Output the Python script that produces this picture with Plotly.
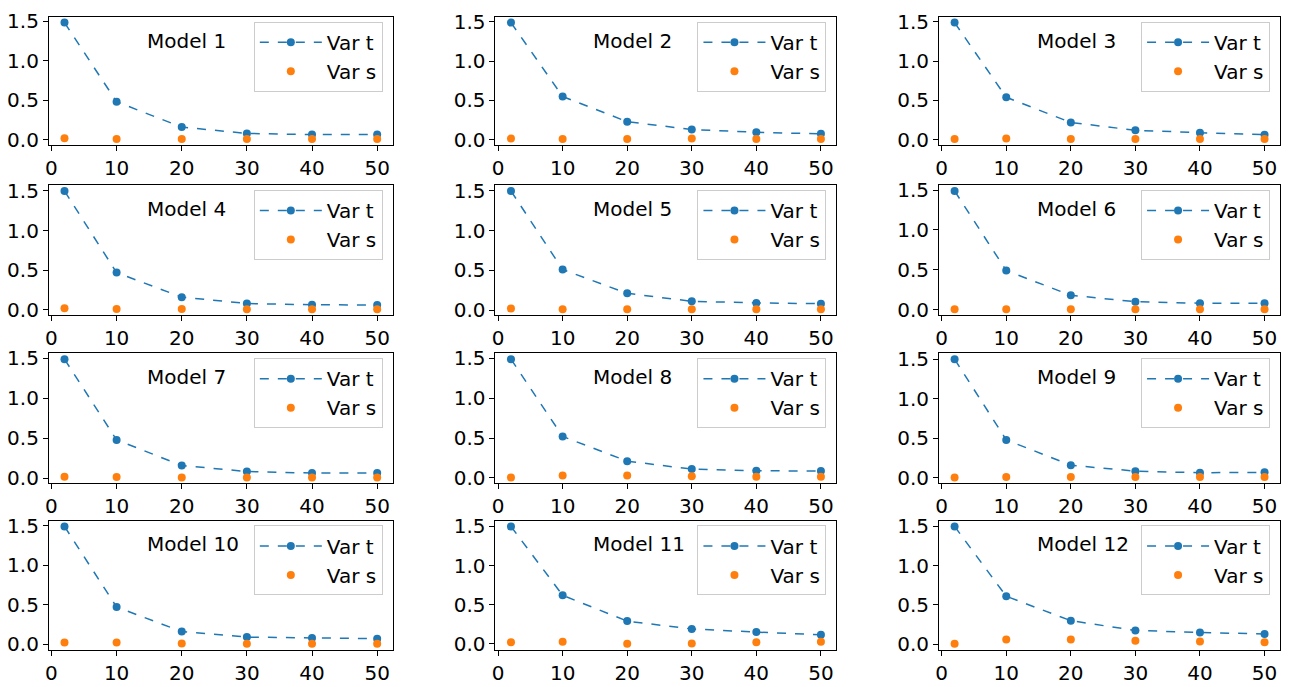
import plotly.graph_objects as go

x_vals = [2, 10, 20, 30, 40, 50]
model_names = [f"Model {i}" for i in range(1, 13)]

var_t = [
    [1.48, 0.48, 0.16, 0.08, 0.065, 0.065],
    [1.49, 0.55, 0.23, 0.13, 0.095, 0.075],
    [1.49, 0.54, 0.22, 0.12, 0.09, 0.065],
    [1.50, 0.47, 0.16, 0.08, 0.065, 0.06],
    [1.50, 0.51, 0.21, 0.11, 0.09, 0.08],
    [1.49, 0.49, 0.18, 0.10, 0.08, 0.08],
    [1.49, 0.48, 0.16, 0.085, 0.065, 0.065],
    [1.49, 0.52, 0.21, 0.11, 0.09, 0.085],
    [1.50, 0.48, 0.16, 0.085, 0.065, 0.07],
    [1.49, 0.47, 0.16, 0.09, 0.08, 0.07],
    [1.50, 0.62, 0.29, 0.19, 0.15, 0.115],
    [1.50, 0.61, 0.30, 0.175, 0.15, 0.13],
]
var_s = [
    [0.02, 0.01, 0.008, 0.008, 0.008, 0.008],
    [0.015, 0.008, 0.01, 0.015, 0.008, 0.01],
    [0.01, 0.015, 0.01, 0.01, 0.008, 0.008],
    [0.02, 0.01, 0.01, 0.008, 0.008, 0.008],
    [0.02, 0.01, 0.01, 0.01, 0.01, 0.01],
    [0.005, 0.005, 0.005, 0.005, 0.005, 0.005],
    [0.02, 0.015, 0.01, 0.01, 0.01, 0.01],
    [0.005, 0.03, 0.03, 0.02, 0.015, 0.015],
    [0.005, 0.01, 0.01, 0.01, 0.01, 0.01],
    [0.02, 0.02, 0.01, 0.005, 0.005, 0.005],
    [0.02, 0.025, 0.0, 0.005, 0.02, 0.025],
    [0.005, 0.06, 0.06, 0.045, 0.035, 0.025],
]
x_ticks = [0, 10, 20, 30, 40, 50]
y_ticks = [0.0, 0.5, 1.0, 1.5]
y_tick_text = ["0.0", "0.5", "1.0", "1.5"]

W, H = 1292, 687
col_px = [(45, 390), (493, 835), (938, 1280)]
row_px = [(9, 140), (181, 314), (353, 486), (524, 656)]

BLUE = "#1f77b4"
ORANGE = "#ff7f0e"
FONT = "DejaVu Sans"
FS = 20

fig = go.Figure()
layout = dict(
    width=W, height=H, margin=dict(l=0, r=0, t=0, b=0),
    paper_bgcolor="white", plot_bgcolor="white",
    font=dict(family=FONT, size=FS, color="black"),
    showlegend=True,
)
annotations = []

for i in range(12):
    r, c = divmod(i, 3)
    n = i + 1
    xa = "x" if n == 1 else f"x{n}"
    ya = "y" if n == 1 else f"y{n}"
    leg = "legend" if n == 1 else f"legend{n}"
    fig.add_trace(go.Scatter(
        x=x_vals, y=var_t[i], mode="lines+markers", name="Var t",
        line=dict(color=BLUE, width=1.5, dash="dash"),
        marker=dict(color=BLUE, size=8),
        xaxis=xa, yaxis=ya, legend=leg,
    ))
    fig.add_trace(go.Scatter(
        x=x_vals, y=var_s[i], mode="markers", name="Var s",
        marker=dict(color=ORANGE, size=8),
        xaxis=xa, yaxis=ya, legend=leg,
    ))
    x0, x1 = col_px[c]
    y0, y1 = row_px[r]
    dom_x = [x0 / W, x1 / W]
    dom_y = [1 - y1 / H, 1 - y0 / H]
    xmin, xmax = min(x_vals), max(x_vals)
    xr = xmax - xmin
    allv = var_t[i] + var_s[i]
    vmin, vmax = min(allv), max(allv)
    vr = vmax - vmin
    axis_common = dict(
        showline=True, mirror=True, linecolor="black", linewidth=1,
        ticks="outside", ticklen=5, tickwidth=1, tickcolor="black",
        showgrid=False, zeroline=False,
        tickfont=dict(family=FONT, size=FS, color="black"),
    )
    layout["xaxis" + ("" if n == 1 else str(n))] = dict(
        domain=dom_x, anchor=ya, range=[xmin - 0.05 * xr, xmax + 0.05 * xr],
        tickmode="array", tickvals=x_ticks, **axis_common,
    )
    layout["yaxis" + ("" if n == 1 else str(n))] = dict(
        domain=dom_y, anchor=xa, range=[vmin - 0.05 * vr, vmax + 0.05 * vr],
        tickmode="array", tickvals=y_ticks, ticktext=y_tick_text, **axis_common,
    )
    layout[leg] = dict(
        x=(x1 - 10) / W, y=1 - (y0 + 5) / H, xanchor="right", yanchor="top",
        bgcolor="rgba(255,255,255,0.8)", bordercolor="#cccccc", borderwidth=1,
        font=dict(family=FONT, size=FS, color="black"),
        itemwidth=62,
    )
    annotations.append(dict(
        text=model_names[i], xref=f"{xa} domain", yref=f"{ya} domain",
        x=0.28, y=0.815, xanchor="left", yanchor="middle", showarrow=False,
        font=dict(family=FONT, size=FS, color="black"),
    ))

layout["annotations"] = annotations
fig.update_layout(**layout)
fig.write_html("out.html")
